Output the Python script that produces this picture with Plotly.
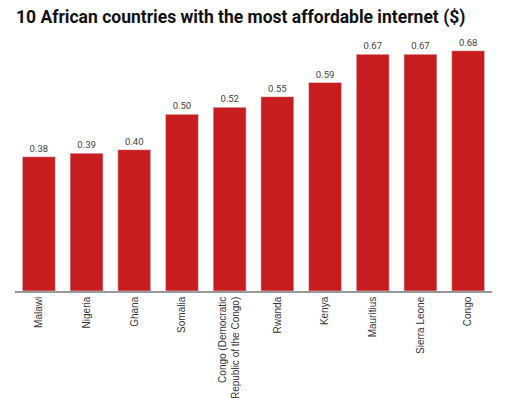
import plotly.graph_objects as go

countries = ["Malawi", "Nigeria", "Ghana", "Somalia",
             "Congo (Democratic<br>Republic of the Congo)", "Rwanda", "Kenya",
             "Mauritius", "Sierra Leone", "Congo"]
prices = [0.38, 0.39, 0.40, 0.50, 0.52, 0.55, 0.59, 0.67, 0.67, 0.68]
price_labels = [f"{v:.2f}" for v in prices]
title_text = "<b>10 African countries with the most affordable internet ($)</b>"

# page body has an 8px default margin, so the figure is sized/offset accordingly
W, H = 513, 390
L, R, T, B = 7, 29, 18, 107
plot_w = W - L - R
plot_h = H - T - B

fig = go.Figure(go.Bar(
    x=countries, y=prices, text=price_labels, textposition="outside",
    textfont=dict(size=9.5, color="#444444", family="Roboto, Arial, sans-serif"),
    marker=dict(color="#c81d1f"), cliponaxis=False,
))

fig.update_layout(
    width=W, height=H,
    margin=dict(l=L, r=R, t=T, b=B, autoexpand=False),
    paper_bgcolor="white", plot_bgcolor="white",
    bargap=0.31,
    showlegend=False,
    annotations=[dict(text=title_text, xref="paper", yref="paper",
                      x=(240 - 15) / plot_w, y=1 + 9 / plot_h,
                      xanchor="center", yanchor="middle",
                      showarrow=False,
                      font=dict(size=17.5, color="#111111", family="Roboto, Arial, sans-serif"))],
    xaxis=dict(tickangle=-90, tickfont=dict(size=10, color="#333333", family="Liberation Sans, Arial, sans-serif"),
               showline=True, linecolor="#999999", linewidth=1.5, ticks="", showgrid=False,
               automargin=False),
    yaxis=dict(range=[0, 0.75], visible=False, showgrid=False),
)

fig.write_html("out.html")
